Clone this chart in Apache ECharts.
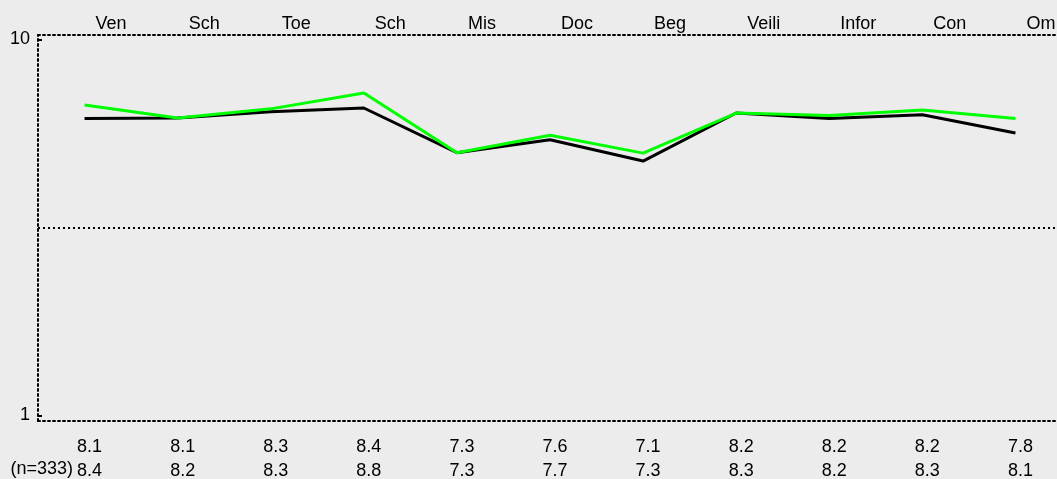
<!DOCTYPE html>
<html>
<head>
<meta charset="utf-8">
<script src="https://cdn.jsdelivr.net/npm/echarts@6/dist/echarts.min.js"></script>
<style>
  html, body { margin: 0; padding: 0; background: #ececec; }
  #chart { width: 1057px; height: 479px; }
</style>
</head>
<body>
<div id="chart"></div>
<script>
const categories = ['Ven', 'Sch', 'Toe', 'Sch', 'Mis', 'Doc', 'Beg', 'Veili', 'Infor', 'Con', 'Om']
// plotted values
const blackValues = [8.11, 8.12, 8.27, 8.36, 7.29, 7.60, 7.09, 8.24, 8.11, 8.20, 7.76]
const greenValues = [8.43, 8.12, 8.34, 8.72, 7.29, 7.71, 7.28, 8.24, 8.18, 8.31, 8.11]
// printed rows under the axis
const blackLabels = ['8.1', '8.1', '8.3', '8.4', '7.3', '7.6', '7.1', '8.2', '8.2', '8.2', '7.8']
const greenLabels = ['8.4', '8.2', '8.3', '8.8', '7.3', '7.7', '7.3', '8.3', '8.2', '8.3', '8.1']
const yTicks = [1, 10]
const midLine = 5.5
const nLabel = '(n=333)'

const font = { fontFamily: 'Liberation Sans, Arial, sans-serif', fontSize: 18, color: '#000' }
const dotted = { color: '#000', width: 2, type: [2, 3] }

const myChart = echarts.init(document.getElementById('chart'))

const option = {
  backgroundColor: '#ececec',
  animation: false,
  grid: { left: 38, right: -5, top: 35, bottom: 58, outerBoundsMode: 'none' },
  xAxis: [
    {
      type: 'category',
      position: 'top',
      data: categories,
      axisLine: { lineStyle: dotted },
      axisTick: { inside: true, alignWithLabel: true, length: 5, lineStyle: { color: '#000', width: 2 } },
      axisLabel: { ...font, interval: 0, align: 'left', padding: [0, 0, 0, 11], margin: 2 }
    },
    {
      type: 'category',
      position: 'bottom',
      data: categories,
      axisLine: { lineStyle: dotted },
      axisTick: { inside: true, alignWithLabel: true, length: 5, lineStyle: { color: '#000', width: 2 } },
      axisLabel: {
        ...font,
        interval: 0,
        lineHeight: 24,
        align: 'center',
        padding: [0, 0, 0, 10],
        margin: 14,
        formatter: (v, i) => blackLabels[i] + '\n' + greenLabels[i]
      }
    }
  ],
  yAxis: {
    type: 'value',
    min: 0.868,
    max: 10.108,
    axisLine: { show: true, lineStyle: dotted },
    axisTick: { show: true, inside: true, length: 4, customValues: yTicks, lineStyle: { color: '#000', width: 2 } },
    axisLabel: { ...font, margin: 8, customValues: yTicks },
    splitLine: { show: false }
  },
  graphic: [
    {
      type: 'text',
      right: 1057 - 73,
      top: 460,
      style: { text: nLabel, font: '18px "Liberation Sans", Arial, sans-serif', fill: '#000' }
    }
  ],
  series: [
    {
      type: 'line',
      data: blackValues,
      symbol: 'none',
      lineStyle: { color: '#000', width: 3 },
      markLine: {
        silent: true,
        symbol: 'none',
        label: { show: false },
        lineStyle: dotted,
        data: [{ yAxis: midLine }]
      }
    },
    {
      type: 'line',
      data: greenValues,
      symbol: 'none',
      lineStyle: { color: '#00ff00', width: 3 }
    }
  ]
}

myChart.setOption(option)
</script>
</body>
</html>
